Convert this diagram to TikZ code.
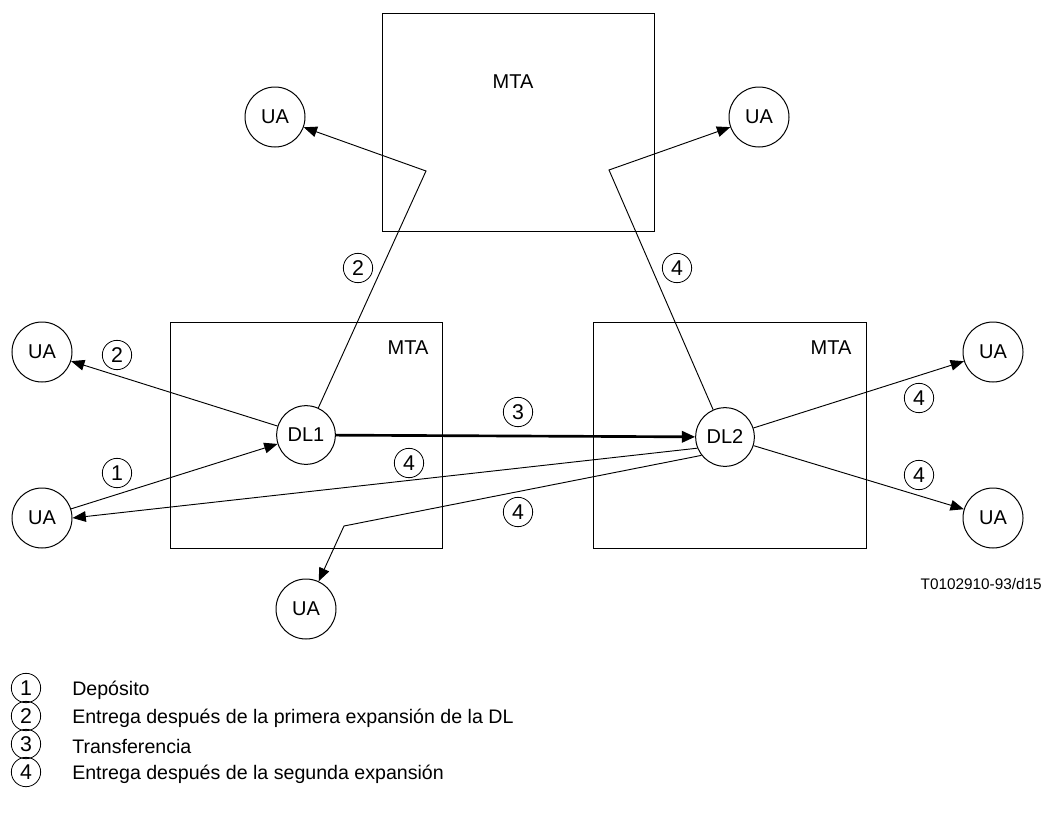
\documentclass[tikz,border=0pt]{standalone}
\usepackage{fontspec}
\setmainfont{Liberation Sans}
\usetikzlibrary{arrows.meta}
\begin{document}
\begin{tikzpicture}[x=0.75pt,y=-0.75pt,
  font=\fontsize{15}{17}\selectfont,
  box/.style={draw,line width=0.75pt},
  ua/.style={draw,circle,line width=0.75pt,minimum size=45pt,inner sep=0pt},
  dl/.style={draw,circle,line width=0.75pt,minimum size=44pt,inner sep=0pt,fill=white},
  num/.style={draw,circle,line width=0.6pt,minimum size=22pt,inner sep=0pt,font=\fontsize{16}{18}\selectfont},
  legtext/.style={anchor=west,inner xsep=0pt,font=\fontsize{14.7}{17}\selectfont},
  arr/.style={line width=0.7pt,-{Triangle[length=10pt,width=8pt]}},
  thickarr/.style={line width=2pt,-{Triangle[length=10pt,width=8.5pt]}}]
\useasboundingbox (0,0) rectangle (1045,814);
% boxes
\draw[box] (382,13) rectangle (654,231);
\node (mtatop) at (513,82) {MTA};
\draw[box] (170,322) rectangle (442,548);
\node (mtal) at (408,348) {MTA};
\draw[box] (593,322) rectangle (866,548);
\node (mtar) at (831,348) {MTA};
% nodes
\node[ua] (uatl) at (275,117) {UA};
\node[ua] (uatr) at (759,117) {UA};
\node[ua] (ual1) at (42,352) {UA};
\node[ua] (ual2) at (42,518) {UA};
\node[ua] (uab) at (306,609) {UA};
\node[ua] (uar1) at (993,352) {UA};
\node[ua] (uar2) at (993,518) {UA};
\node[dl] (dl1) at (306,435) {DL1};
\node[dl] (dl2) at (725,437) {DL2};
\coordinate (b1) at (426,171);
\coordinate (b2) at (609,170);
\coordinate (b3) at (344,526);
% connectors
\draw[arr] (dl1) -- (b1) -- (uatl);
\draw[arr] (dl2) -- (b2) -- (uatr);
\draw[arr] (dl1) -- (ual1);
\draw[arr] (ual2) -- (dl1);
\draw[thickarr] (dl1) -- (dl2);
\draw[arr] (dl2.202) -- (ual2.east);
\draw[arr] (dl2.218) -- (b3) -- (uab);
\draw[arr] (dl2) -- (uar1);
\draw[arr] (dl2) -- (uar2);
% labels
\node[num] (n2a) at (358,268) {2};
\node[num] (n4a) at (677,268) {4};
\node[num] (n2b) at (117,355) {2};
\node[num] (n1) at (117,473) {1};
\node[num] (n4b) at (409,463) {4};
\node[num] (n3) at (518,412) {3};
\node[num] (n4c) at (518,512) {4};
\node[num] (n4d) at (919,398) {4};
\node[num] (n4e) at (919,475) {4};
\node[anchor=east,inner xsep=0pt,font=\fontsize{11.5}{13}\selectfont] (ref) at (1042,584) {T0102910-93/d15};
% legend
\node[num] (l1) at (26,688) {1};
\node[num] (l2) at (26,716) {2};
\node[num] (l3) at (26,744) {3};
\node[num] (l4) at (26,772) {4};
\node[legtext] (t1) at (72,690) {Depósito};
\node[legtext] (t2) at (72,718) {Entrega después de la primera expansión de la DL};
\node[legtext] (t3) at (72,746) {Transferencia};
\node[legtext] (t4) at (72,774) {Entrega después de la segunda expansión};
\end{tikzpicture}
\end{document}
